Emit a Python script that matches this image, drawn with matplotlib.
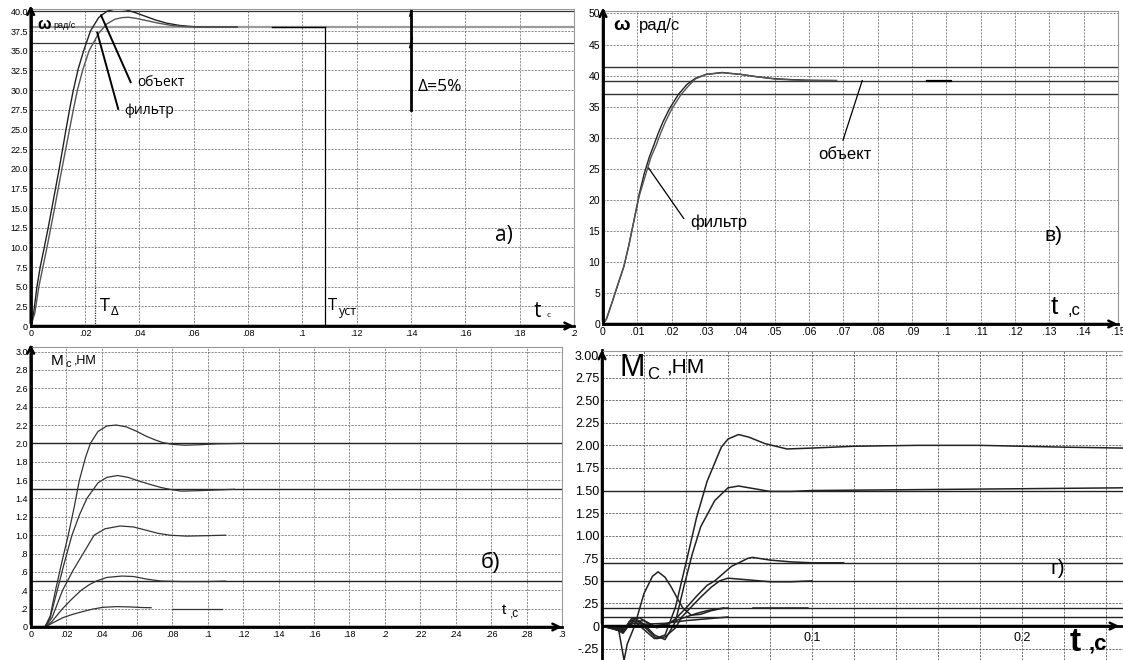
#!/usr/bin/env python3
"""
Four-panel transient response figure: speed (a, в) and load torque (б, г).
"""
import numpy as np
import matplotlib
matplotlib.use("Agg")
import matplotlib.pyplot as plt

# ---- panel а): speed, object vs filter ----
a_t_obj = [0, .001, .0023, .0035, .005, .0065, .0078, .0092, .0105, .0118, .013, .0143,
           .0157, .0175, .0195, .022, .025, .028, .0305, .0325, .035, .038, .042, .046,
           .05, .055, .06, .065, .07, .076]
a_w_obj = [0, 1.4, 5, 7.5, 10, 12.6, 15, 17.6, 20, 22.6, 25, 27.5,
           30, 32.7, 35, 37.5, 39.2, 40.0, 40.25, 40.3, 40.2, 39.9, 39.4, 38.9,
           38.5, 38.2, 38.05, 38.0, 38.0, 38.0]
a_t_fil = [0, .0015, .003, .0045, .006, .0074, .0088, .0102, .0115, .0129, .0143, .0157,
           .0172, .0192, .0215, .025, .028, .031, .0335, .036, .039, .043, .047, .052,
           .057, .062, .068, .076]
a_w_fil = [0, 1.6, 5, 7.5, 10, 12.5, 15, 17.6, 20, 22.5, 25, 27.5,
           30, 32.6, 35, 37.2, 38.4, 39.0, 39.2, 39.25, 39.1, 38.8, 38.5, 38.2,
           38.05, 38.0, 38.0, 38.0]
a_w_set = 38.0
a_band = [36.0, 40.0]
a_t_delta = .0238
a_t_ust = .1085
a_x_ticks = [0, .02, .04, .06, .08, .1, .12, .14, .16, .18, .2]
a_x_labels = ["0", ".02", ".04", ".06", ".08", ".1", ".12", ".14", ".16", ".18", ".2"]
a_y_ticks = [0, 2.5, 5, 7.5, 10, 12.5, 15, 17.5, 20, 22.5, 25, 27.5, 30, 32.5, 35, 37.5, 40]
a_y_labels = ["0", "2.5", "5.0", "7.5", "10.0", "12.5", "15.0", "17.5", "20.0", "22.5",
              "25.0", "27.5", "30.0", "32.5", "35.0", "37.5", "40.0"]

# ---- panel в): speed, second case ----
v_t_obj = [0, .001, .0026, .004, .0061, .0075, .009, .0105, .012, .0135, .0148, .016,
           .0175, .0194, .022, .0245, .027, .0301, .0347, .04, .045, .05, .055, .06, .068]
v_w_obj = [0, .8, 3.4, 5.8, 9.3, 12.6, 16.6, 20.8, 24.2, 26.9, 28.8, 30.6,
           32.6, 34.7, 37.0, 38.6, 39.6, 40.2, 40.5, 40.2, 39.8, 39.5, 39.35, 39.25, 39.2]
v_t_fil = [0, .001, .0026, .004, .0061, .0075, .009, .0105, .0125, .014, .0155, .0167,
           .0182, .0201, .0228, .025, .027, .0301, .0347, .04, .045, .05, .055, .06, .068]
v_w_fil = [0, .8, 3.4, 5.8, 9.3, 12.6, 16.6, 20.5, 24.2, 26.9, 28.8, 30.6,
           32.6, 34.7, 37.0, 38.4, 39.5, 40.2, 40.45, 40.2, 39.8, 39.45, 39.3, 39.2, 39.2]
v_levels = [41.4, 39.2, 37.0]
v_x_ticks = [0, .01, .02, .03, .04, .05, .06, .07, .08, .09, .1, .11, .12, .13, .14, .15]
v_x_labels = ["0", ".01", ".02", ".03", ".04", ".05", ".06", ".07", ".08", ".09", ".1",
              ".11", ".12", ".13", ".14", ".15"]
v_y_ticks = [0, 5, 10, 15, 20, 25, 30, 35, 40, 45, 50]
v_y_labels = ["0", "5", "10", "15", "20", "25", "30", "35", "40", "45", "50"]

# ---- panel б): load torque, five loads ----
b_t_20 = [0, .008, .011, .014, .0175, .0212, .0245, .0275, .031, .0337, .038, .043,
          .0483, .054, .06, .065, .07, .0744, .08, .087, .095, .105, .12]
b_m_20 = [0, 0, .12, .4, .7, 1.0, 1.3, 1.6, 1.85, 2.0, 2.13, 2.19,
          2.2, 2.18, 2.13, 2.08, 2.04, 2.01, 1.99, 1.98, 1.985, 1.995, 2.0]
b_t_15 = [0, .008, .011, .015, .019, .0233, .0275, .0317, .038, .043, .049, .055,
          .061, .068, .0735, .0785, .085, .095, .115]
b_m_15 = [0, 0, .1, .4, .7, 1.0, 1.22, 1.4, 1.57, 1.63, 1.65, 1.63,
          1.59, 1.55, 1.52, 1.5, 1.48, 1.485, 1.5]
b_t_10 = [0, .008, .012, .018, .024, .0296, .0358, .042, .0504, .058, .066, .072,
          .0785, .088, .1, .11]
b_m_10 = [0, 0, .1, .4, .62, .8, 1.0, 1.07, 1.1, 1.09, 1.05, 1.02,
          1.0, .99, .995, 1.0]
b_t_05 = [0, .008, .012, .018, .023, .0285, .033, .037, .043, .0515, .058, .066,
          .074, .085, .1, .11]
b_m_05 = [0, 0, .06, .2, .3, .4, .46, .5, .54, .555, .55, .52,
          .5, .495, .495, .5]
b_t_02 = [0, .008, .012, .018, .024, .0298, .035, .041, .049, .057, .063, .068]
b_m_02 = [0, 0, .04, .1, .14, .17, .195, .215, .222, .218, .212, .21]
b_t_02_tail = [.08, .108]
b_m_02_tail = [.2, .2]
b_levels = [2.0, 1.5, 0.5]
b_x_ticks = [0, .02, .04, .06, .08, .1, .12, .14, .16, .18, .2, .22, .24, .26, .28, .3]
b_x_labels = ["0", ".02", ".04", ".06", ".08", ".1", ".12", ".14", ".16", ".18", ".2",
              ".22", ".24", ".26", ".28", ".3"]
b_y_ticks = [0, .2, .4, .6, .8, 1.0, 1.2, 1.4, 1.6, 1.8, 2.0, 2.2, 2.4, 2.6, 2.8, 3.0]
b_y_labels = ["0", ".2", ".4", ".6", ".8", "1.0", "1.2", "1.4", "1.6", "1.8", "2.0",
              "2.2", "2.4", "2.6", "2.8", "3.0"]

# ---- panel г): load torque, second case ----
g_t_20 = [0, .006, .010, .012, .015, .02, .025, .03, .035, .04, .0425, .045, .05,
          .055, .0568, .06, .065, .07, .0775, .088, .1, .12, .15, .18, .2, .22, .248]
g_m_20 = [0, -.03, -.08, -.02, .06, -.04, -.14, -.1, .21, .7, .95, 1.2, 1.6,
          1.88, 1.98, 2.07, 2.12, 2.09, 2.02, 1.96, 1.97, 1.99, 2.0, 2.0, 1.99, 1.98, 1.97]
g_t_15 = [0, .006, .010, .013, .016, .02, .025, .03, .035, .039, .043, .047, .0537,
          .06, .065, .07, .08, .09, .1, .15, .2, .248]
g_m_15 = [0, -.03, -.07, .05, .08, .02, -.1, -.15, .05, .44, .8, 1.1, 1.39,
          1.53, 1.55, 1.53, 1.49, 1.49, 1.5, 1.51, 1.52, 1.53]
g_t_07 = [0, .01, .014, .018, .022, .026, .03, .035, .04, .045, .05, .0537, .0616,
          .0695, .0717, .08, .09, .1, .115]
g_m_07 = [0, -.06, .08, .09, .03, -.02, 0, .08, .2, .33, .45, .5, .66,
          .75, .76, .73, .71, .70, .70]
g_t_05 = [0, .01, .014, .018, .022, .026, .03, .035, .038, .042, .047, .052, .056,
          .06, .065, .07, .08, .09, .1]
g_m_05 = [0, -.05, .06, .04, -.05, -.14, -.12, -.02, .1, .2, .32, .43, .5,
          .53, .52, .51, .49, .49, .5]
g_t_osc = [0, .008, .0105, .012, .0155, .02, .024, .0267, .03, .033, .036, .0385,
           .0425, .047, .052, .058]
g_m_osc = [0, -.05, -.38, -.2, 0, .36, .55, .6, .54, .43, .3, .2,
           .12, .13, .17, .2]
g_t_02 = [0, .01, .015, .02, .025, .03, .035, .04, .045, .05, .055, .06]
g_m_02 = [0, -.04, .05, .06, 0, .02, .06, .1, .14, .17, .19, .2]
g_t_02_tail = [.0717, .098]
g_m_02_tail = [.2, .2]
g_t_01 = [0, .01, .015, .02, .03, .04, .05, .06]
g_m_01 = [0, -.03, .03, .02, .03, .06, .08, .1]
g_levels = [1.5, .7, .5, .2, .1]
g_x_ticks = [0, .02, .04, .06, .08, .1, .12, .14, .16, .18, .2, .22, .24]
g_x_labels = ["", "", "", "", "", "0.1", "", "", "", "", "0.2", "", ""]
g_y_ticks = [-.25, 0, .25, .5, .75, 1.0, 1.25, 1.5, 1.75, 2.0, 2.25, 2.5, 2.75, 3.0]
g_y_labels = ["-.25", "0", ".25", ".50", ".75", "1.00", "1.25", "1.50", "1.75", "2.00",
              "2.25", "2.50", "2.75", "3.00"]

W, H = 1123, 660
SANS = ["Liberation Sans", "DejaVu Sans"]
SOFT = ["Open Sans", "DejaVu Sans"]
plt.rcParams["font.family"] = SANS


def px_axes(fig, left, right, top, bottom):
    """Add axes from pixel edges measured from the top-left corner."""
    return fig.add_axes([left / W, 1 - bottom / H, (right - left) / W, (bottom - top) / H])


def style(ax, xlim, ylim, xt, xl, yt, yl, fs, gcol="#777777"):
    ax.set_xlim(*xlim)
    ax.set_ylim(*ylim)
    ax.set_xticks(xt, xl)
    ax.set_yticks(yt, yl)
    ax.tick_params(length=0, labelsize=fs, pad=2)
    ax.grid(True, color=gcol, ls=(0, (2.5, 1.5)), lw=0.6)
    for s in ("top", "right"):
        ax.spines[s].set_color("#999999")
        ax.spines[s].set_linewidth(0.8)
    ax.spines["left"].set_linewidth(2.0)
    ax.spines["bottom"].set_linewidth(2.0)
    ax.set_axisbelow(True)


def arrows(ax, x_end=1.005, y_end=1.02, y0=0.0):
    kw = dict(arrowstyle="->", lw=1.8, color="black", mutation_scale=12)
    ax.annotate("", xy=(0, y_end), xytext=(0, y0), xycoords="axes fraction",
                arrowprops=kw, annotation_clip=False)
    ax.annotate("", xy=(x_end, y0), xytext=(0, y0), xycoords="axes fraction",
                arrowprops=kw, annotation_clip=False)


fig = plt.figure(figsize=(W / 100, H / 100), dpi=100)
fig.patch.set_facecolor("white")
line_kw = dict(color="#222222", lw=1.0)

# ---------------- а) ----------------
ax = px_axes(fig, 30.7, 574, 9, 326)
style(ax, (0, .2), (0, 40.3), a_x_ticks, a_x_labels, a_y_ticks, a_y_labels, 6.5)
ax.axhline(a_w_set, color="#9a9a9a", lw=1.6)
for lv in a_band:
    ax.axhline(lv, color="#333333", lw=0.9)
ax.plot(a_t_obj, a_w_obj, **line_kw)
ax.plot(a_t_fil, a_w_fil, color="#555555", lw=1.0)
ax.plot([.089, a_t_ust], [a_w_set, a_w_set], color="black", lw=1.0)
ax.plot([a_t_ust, a_t_ust], [0, a_w_set], color="black", lw=0.9)
ax.plot([a_t_delta, a_t_delta], [0, 36.6], color="#333333", lw=0.9, ls=(0, (1, 1)))
ax.plot([.14, .14], [27.5, a_band[1]], color="black", lw=2.0)
for lv in a_band:
    ax.plot([.1395, .1405], [lv - 0.6, lv + 0.6], color="black", lw=1.0)
ax.text(.1425, 30.4, "Δ=5%", fontsize=12.5, family=SOFT, va="center")
ax.plot([.0259, .0368], [39.5, 31.0], color="black", lw=1.4)
ax.text(.0392, 31.0, "объект", fontsize=10, family=SOFT, va="center")
ax.plot([.0245, .0322], [37.3, 27.6], color="black", lw=1.4)
ax.text(.0345, 27.4, "фильтр", fontsize=10, family=SOFT, va="center")
ax.text(.171, 11.5, "а)", fontsize=15, family=SOFT, va="center")
ax.text(.0255, 2.6, "T", fontsize=13, family=SOFT, va="center")
ax.text(.0295, 1.8, "Δ", fontsize=9.5, family=SOFT, va="center")
ax.text(.1095, 2.6, "T", fontsize=12, family=SOFT, va="center")
ax.text(.1135, 1.8, "уст", fontsize=9, family=SOFT, va="center")
ax.text(.185, 1.8, "t", fontsize=15, family=SOFT, va="center")
ax.text(.19, 1.3, "c", fontsize=6, family=SOFT, va="center")
ax.text(.0023, 38.3, "ω", fontsize=11.5, fontweight="bold", va="center")
ax.text(.0084, 38.2, "рад/с", fontsize=6.5, va="center")
arrows(ax)

# ---------------- в) ----------------
ax = px_axes(fig, 603, 1118, 11, 324)
style(ax, (0, .15), (0, 50.4), v_x_ticks, v_x_labels, v_y_ticks, v_y_labels, 7.5)
for lv in v_levels:
    ax.axhline(lv, color="#333333", lw=1.0)
ax.plot(v_t_obj, v_w_obj, **line_kw)
ax.plot(v_t_fil, v_w_fil, color="#555555", lw=1.0)
ax.plot([.0944, .1015], [39.2, 39.2], color="black", lw=1.6)
ax.plot([.0755, .0699], [39.2, 29.6], color="black", lw=0.9)
ax.text(.0628, 27.3, "объект", fontsize=12, va="center")
ax.plot([.0133, .0235], [25.1, 17.0], color="black", lw=0.9)
ax.text(.0255, 16.4, "фильтр", fontsize=12, va="center")
ax.text(.1285, 14.3, "в)", fontsize=15, va="center")
ax.text(.1305, 2.8, "t", fontsize=19, va="center")
ax.text(.1352, 2.2, ",c", fontsize=12, va="center")
ax.text(.003, 48.0, "ω", fontsize=14, fontweight="bold", va="center")
ax.text(.0105, 48.0, "рад/с", fontsize=12, va="center")
arrows(ax)

# ---------------- б) ----------------
ax = px_axes(fig, 30.7, 562, 347, 627)
style(ax, (0, .3), (0, 3.05), b_x_ticks, b_x_labels, b_y_ticks, b_y_labels, 6.5)
for lv in b_levels:
    ax.axhline(lv, color="#222222", lw=1.0)
for tt, mm in ((b_t_20, b_m_20), (b_t_15, b_m_15), (b_t_10, b_m_10),
               (b_t_05, b_m_05), (b_t_02, b_m_02), (b_t_02_tail, b_m_02_tail)):
    ax.plot(tt, mm, color="#333333", lw=0.9)
ax.text(.254, .7, "б)", fontsize=16, va="center")
ax.text(.266, .18, "t", fontsize=11, va="center")
ax.text(.2705, .15, ",c", fontsize=8.5, va="center")
ax.text(.0115, 2.9, "M", fontsize=11, va="center")
ax.text(.0195, 2.86, "с", fontsize=8, va="center")
ax.text(.0245, 2.9, ",НМ", fontsize=9, va="center")
arrows(ax)

# ---------------- г) ----------------
ax = px_axes(fig, 602, 1123, 350.5, 660)
style(ax, (0, .248), (-.376, 3.05), g_x_ticks, g_x_labels, g_y_ticks, g_y_labels, 9,
      gcol="#555555")
ax.spines["bottom"].set_visible(False)
ax.spines["right"].set_visible(False)
ax.tick_params(axis="x", pad=-20)
for lv in g_levels:
    ax.axhline(lv, color="#222222", lw=1.0)
ax.axhline(0, color="black", lw=2.0)
for tt, mm in ((g_t_20, g_m_20), (g_t_15, g_m_15), (g_t_07, g_m_07), (g_t_05, g_m_05),
               (g_t_osc, g_m_osc), (g_t_02, g_m_02), (g_t_02_tail, g_m_02_tail),
               (g_t_01, g_m_01)):
    ax.plot(tt, mm, color="#222222", lw=1.1)
ax.text(.2135, .64, "г)", fontsize=15, va="center")
ax.text(.2225, -.18, "t", fontsize=24, fontweight="bold", va="center")
ax.text(.2315, -.2, ",c", fontsize=16, fontweight="bold", va="center")
ax.text(.0085, 2.86, "M", fontsize=22, va="center")
ax.text(.0215, 2.78, "С", fontsize=12, va="center")
ax.text(.0305, 2.87, ",НМ", fontsize=15, va="center")
kw = dict(arrowstyle="->", lw=1.8, color="black", mutation_scale=12)
ax.annotate("", xy=(0, 3.09), xytext=(0, 0), arrowprops=kw, annotation_clip=False)
ax.annotate("", xy=(.2475, 0), xytext=(0, 0), arrowprops=kw, annotation_clip=False)

fig.savefig("out.png", dpi=100, facecolor="white")
